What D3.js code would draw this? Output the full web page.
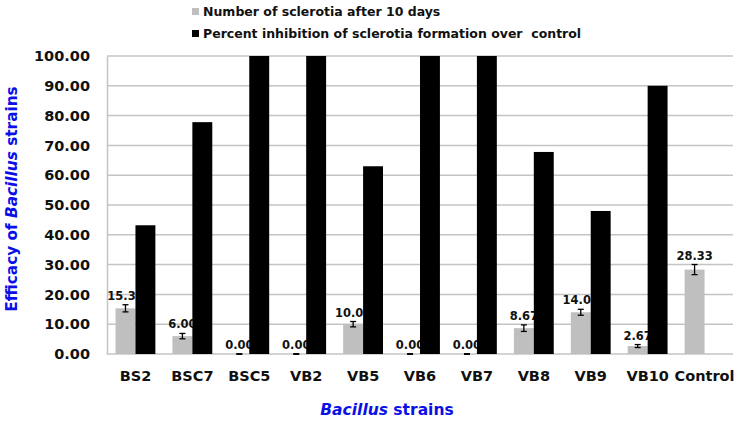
<!DOCTYPE html>
<html>
<head>
<meta charset="utf-8">
<script src="https://cdn.jsdelivr.net/npm/d3@7"></script>
<style>
  body { margin: 0; background: #fff; }
  svg text { font-family: "DejaVu Sans", Verdana, sans-serif; font-weight: bold; white-space: pre; }
</style>
</head>
<body>
<div id="container"></div>
<script>
// Chart values
const strains = ["BS2", "BSC7", "BSC5", "VB2", "VB5", "VB6", "VB7", "VB8", "VB9", "VB10", "Control"];
const sclerotia = [15.33, 6.00, 0.00, 0.00, 10.00, 0.00, 0.00, 8.67, 14.00, 2.67, 28.33];
const sclerotiaErr = [1.2, 0.9, 0.1, 0.1, 0.9, 0.1, 0.1, 1.1, 1.0, 0.5, 1.7];
const inhibition = [43.2, 77.8, 100, 100, 63.0, 100, 100, 67.8, 48.0, 90.0, 0];
const yTicks = [0, 10, 20, 30, 40, 50, 60, 70, 80, 90, 100];
const seriesNames = ["Number of sclerotia after 10 days", "Percent inhibition of sclerotia formation over  control"];

const width = 737, height = 422;
const marginTop = 56, marginRight = 4, marginBottom = 68, marginLeft = 107;
const grey = "#bfbfbf";
const blue = "#0a10e6";

const svg = d3.select("#container").append("svg")
    .attr("width", width)
    .attr("height", height);

const x = d3.scaleBand()
    .domain(strains)
    .range([marginLeft, width - marginRight])
    .paddingInner(0.3)
    .paddingOuter(0.15);

const xSub = d3.scaleBand()
    .domain([0, 1])
    .range([0, x.bandwidth()]);

const y = d3.scaleLinear()
    .domain([0, 100])
    .range([height - marginBottom, marginTop]);

// gridlines
svg.append("g")
    .selectAll("line")
    .data(yTicks)
    .join("line")
    .attr("x1", marginLeft)
    .attr("x2", width - marginRight)
    .attr("y1", d => y(d))
    .attr("y2", d => y(d))
    .attr("stroke", "#c4c4c4")
    .attr("stroke-width", 1.5);

// y axis
const yAxis = svg.append("g")
    .attr("transform", `translate(${marginLeft},0)`)
    .call(d3.axisLeft(y).tickValues(yTicks).tickFormat(d3.format(".2f")).tickSize(0).tickPadding(17));
yAxis.select(".domain").attr("stroke", "#c4c4c4").attr("stroke-width", 1.5);
yAxis.selectAll("text").attr("font-size", 14.5).attr("fill", "#111");

// x axis
const xAxis = svg.append("g")
    .attr("transform", `translate(0,${height - marginBottom})`)
    .call(d3.axisBottom(x).tickSize(0).tickPadding(17));
xAxis.select(".domain").remove();
xAxis.selectAll("text").attr("font-size", 14.5).attr("fill", "#111");

// grey bars
svg.append("g")
    .selectAll("rect")
    .data(strains)
    .join("rect")
    .attr("x", (d, i) => x(d) + xSub(0))
    .attr("y", (d, i) => y(sclerotia[i]))
    .attr("width", xSub.bandwidth())
    .attr("height", (d, i) => y(0) - y(sclerotia[i]))
    .attr("fill", grey);

// error bars
const err = svg.append("g").attr("stroke", "#000").attr("stroke-width", 1.3);
strains.forEach((s, i) => {
    const cx = x(s) + xSub(0) + xSub.bandwidth() / 2;
    const y1 = y(sclerotia[i] - sclerotiaErr[i]);
    const y2 = y(sclerotia[i] + sclerotiaErr[i]);
    err.append("line").attr("x1", cx).attr("x2", cx).attr("y1", y1).attr("y2", y2);
    err.append("line").attr("x1", cx - 3).attr("x2", cx + 3).attr("y1", y1).attr("y2", y1);
    err.append("line").attr("x1", cx - 3).attr("x2", cx + 3).attr("y1", y2).attr("y2", y2);
});

// value labels (partly covered by the black bars)
svg.append("g")
    .selectAll("text")
    .data(strains)
    .join("text")
    .attr("x", (d, i) => x(d) + xSub(0) + xSub.bandwidth() / 2)
    .attr("y", (d, i) => y(sclerotia[i] + sclerotiaErr[i]) - 5)
    .attr("text-anchor", "middle")
    .attr("font-size", 11.5)
    .attr("fill", "#111")
    .text((d, i) => sclerotia[i].toFixed(2));

// black bars
svg.append("g")
    .selectAll("rect")
    .data(strains)
    .join("rect")
    .attr("x", (d, i) => x(d) + xSub(1))
    .attr("y", (d, i) => y(inhibition[i]))
    .attr("width", xSub.bandwidth())
    .attr("height", (d, i) => y(0) - y(inhibition[i]))
    .attr("fill", "#000");

// legend
const legend = svg.append("g").attr("transform", "translate(192,0)");
[grey, "#000"].forEach((c, i) => {
    legend.append("rect")
        .attr("x", 0).attr("y", 8 + i * 22)
        .attr("width", 7).attr("height", 7)
        .attr("fill", c);
    legend.append("text")
        .attr("x", 11).attr("y", 16 + i * 22)
        .attr("font-size", 12.5)
        .attr("fill", "#111")
        .text(seriesNames[i]);
});

// axis titles
const xTitle = svg.append("text")
    .attr("x", 387).attr("y", 415)
    .attr("text-anchor", "middle")
    .attr("font-size", 15.5)
    .attr("fill", blue);
xTitle.append("tspan").attr("font-style", "italic").text("Bacillus");
xTitle.append("tspan").text(" strains");

const yTitle = svg.append("text")
    .attr("transform", "translate(17,199) rotate(-90)")
    .attr("text-anchor", "middle")
    .attr("font-size", 15.3)
    .attr("fill", blue);
yTitle.append("tspan").text("Efficacy of ");
yTitle.append("tspan").attr("font-style", "italic").text("Bacillus");
yTitle.append("tspan").text(" strains");
</script>
</body>
</html>
